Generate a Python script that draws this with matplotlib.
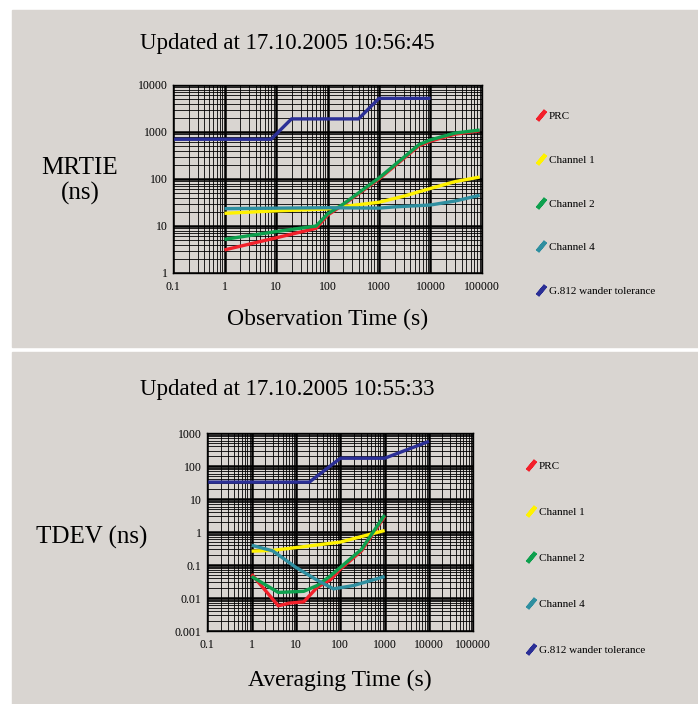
import numpy as np
import matplotlib
matplotlib.use("Agg")
import matplotlib.pyplot as plt
from matplotlib.lines import Line2D
from matplotlib.patches import Rectangle
from matplotlib.ticker import LogLocator, FuncFormatter, NullFormatter

plt.rcParams['font.family'] = ['Liberation Serif', 'DejaVu Serif']

# --- MRTIE data (ns) ---
mrtie_tau_prc = [1, 10, 60, 100, 200, 1000, 6000, 10000, 30000, 90000]
mrtie_prc = [3.1, 5.6, 8.9, 17, 28, 100, 510, 640, 900, 1060]
mrtie_tau_ch1 = [1, 10, 100, 200, 1000, 3000, 10000, 30000, 90000]
mrtie_ch1 = [18.6, 21, 23, 26, 32, 43, 63, 88, 110]
mrtie_tau_ch2 = [1, 10, 60, 100, 200, 1000, 6000, 10000, 30000, 90000]
mrtie_ch2 = [5.2, 7.6, 10, 18, 29, 105, 540, 680, 950, 1100]
mrtie_tau_ch4 = [1, 10, 100, 1000, 2000, 10000, 30000, 90000]
mrtie_ch4 = [23.4, 24, 24.5, 24, 25.5, 28, 34, 45]
mrtie_tau_g812 = [0.1, 8, 20, 400, 1000, 10000]
mrtie_g812 = [700, 700, 1900, 1900, 5200, 5200]

# --- TDEV data (ns) ---
tdev_tau_prc = [1, 4, 7, 15, 30, 60, 100, 300, 1000]
tdev_prc = [0.053, 0.0058, 0.007, 0.0077, 0.021, 0.036, 0.075, 0.27, 3.0]
tdev_tau_ch1 = [1, 3, 10, 100, 1000]
tdev_ch1 = [0.265, 0.28, 0.34, 0.5, 1.12]
tdev_tau_ch2 = [1, 4, 15, 30, 60, 100, 300, 1000]
tdev_ch2 = [0.045, 0.0148, 0.016, 0.024, 0.047, 0.085, 0.3, 3.3]
tdev_tau_ch4 = [1, 3, 10, 30, 70, 200, 1000]
tdev_ch4 = [0.4, 0.27, 0.085, 0.035, 0.019, 0.024, 0.045]
tdev_tau_g812 = [0.1, 20, 100, 1000, 10000]
tdev_g812 = [33, 33, 175, 175, 570]

labels = ['PRC', 'Channel 1', 'Channel 2', 'Channel 4', 'G.812 wander tolerance']
colors = ['#F2202A', '#FFF200', '#0EA04E', '#2F8FA0', '#2B2F96']

panel_bg = '#D9D5D1'

fig = plt.figure(figsize=(6.98, 7.04), dpi=100)
fig.patch.set_facecolor('white')
fig.add_artist(Rectangle((12 / 698, 1 - 346.5 / 704), 1, 336.5 / 704,
                         transform=fig.transFigure, color=panel_bg, zorder=-10))
fig.add_artist(Rectangle((12 / 698, 0), 1, 352 / 704,
                         transform=fig.transFigure, color=panel_bg, zorder=-10))


def style_axis(ax, xlim, ylim):
	ax.set_xscale('log')
	ax.set_yscale('log')
	ax.set_xlim(*xlim)
	ax.set_ylim(*ylim)
	ax.set_facecolor(panel_bg)
	for axis in (ax.xaxis, ax.yaxis):
		axis.set_major_locator(LogLocator(base=10, numticks=100))
		axis.set_minor_locator(LogLocator(base=10, subs=np.arange(2, 10), numticks=100))
		axis.set_major_formatter(FuncFormatter(lambda v, p: '%g' % v))
		axis.set_minor_formatter(NullFormatter())
	ax.grid(which='major', color='black', lw=1.8)
	ax.grid(which='minor', color='black', lw=0.6)
	ax.set_axisbelow(True)
	ax.tick_params(which='both', length=0, labelsize=8.5)
	ax.tick_params(axis='x', pad=6)
	ax.tick_params(axis='y', pad=4)
	for s in ax.spines.values():
		s.set_color('black')
		s.set_linewidth(1.0)


def add_legend(x, y, pitch):
	handles = [Line2D([], [], ls='none', marker=(2, 2, -40), markersize=9,
					  markeredgewidth=3, color=c) for c in colors]
	fig.legend(handles, labels, loc='upper left', bbox_to_anchor=(x, y),
			   frameon=False, fontsize=8, labelspacing=pitch,
			   handlelength=1.0, handletextpad=0.2, borderpad=0)


# top chart
ax1 = fig.add_axes([173 / 698, 1 - 273 / 704, 309 / 698, 188 / 704])
style_axis(ax1, (0.1, 100000), (1, 10000))
series1 = [(mrtie_tau_prc, mrtie_prc), (mrtie_tau_ch1, mrtie_ch1),
		   (mrtie_tau_ch2, mrtie_ch2), (mrtie_tau_ch4, mrtie_ch4),
		   (mrtie_tau_g812, mrtie_g812)]
for (t, v), c in zip(series1, colors):
	ax1.plot(t, v, color=c, lw=2.4, solid_capstyle='butt')
ax1.set_xlabel('Observation Time (s)', fontsize=17, labelpad=11)
fig.text(80 / 698, 1 - 181 / 704, 'MRTIE\n(ns)', fontsize=18,
		 ha='center', va='center', linespacing=1.2)
fig.text(287 / 698, 1 - 44 / 704, 'Updated at 17.10.2005 10:56:45',
		 fontsize=16.5, ha='center', va='center')
add_legend(530 / 698, 1 - 106 / 704, 3.05)

# bottom chart
ax2 = fig.add_axes([207.3 / 698, 1 - 631 / 704, 266 / 698, 197.7 / 704])
style_axis(ax2, (0.1, 100000), (0.001, 1000))
series2 = [(tdev_tau_prc, tdev_prc), (tdev_tau_ch1, tdev_ch1),
		   (tdev_tau_ch2, tdev_ch2), (tdev_tau_ch4, tdev_ch4),
		   (tdev_tau_g812, tdev_g812)]
for (t, v), c in zip(series2, colors):
	ax2.plot(t, v, color=c, lw=2.4, solid_capstyle='butt')
ax2.set_xlabel('Averaging Time (s)', fontsize=17, labelpad=13)
fig.text(92 / 698, 1 - 537 / 704, 'TDEV (ns)', fontsize=18,
		 ha='center', va='center')
fig.text(287 / 698, 1 - 390 / 704, 'Updated at 17.10.2005 10:55:33',
		 fontsize=16.5, ha='center', va='center')
add_legend(520 / 698, 1 - 456 / 704, 3.25)

fig.savefig('out.png', dpi=100, facecolor=fig.get_facecolor())
